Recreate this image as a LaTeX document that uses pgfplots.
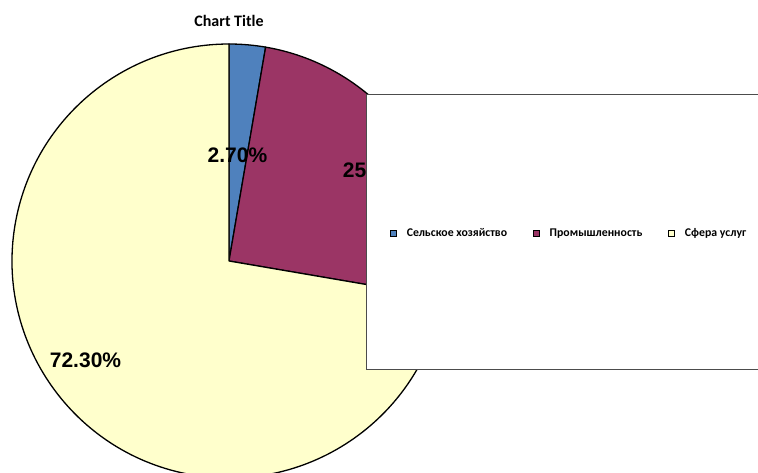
\documentclass[border=0pt]{standalone}
\usepackage{fontspec}
\setmainfont{Carlito}
\newfontfamily\labfont{Liberation Sans}
\usepackage{pgfplots}
\usepackage{pgfplotstable}
\pgfplotsset{compat=1.18}
\definecolor{cA}{HTML}{4F81BD}
\definecolor{cB}{HTML}{9B3565}
\definecolor{cC}{HTML}{FFFFCC}
\pgfplotstableread{
share
2.7
25.0
72.3
}\piedata
\begin{document}
\begin{tikzpicture}
\pgfplotstablegetelem{0}{share}\of\piedata \let\vA\pgfplotsretval
\pgfplotstablegetelem{1}{share}\of\piedata \let\vB\pgfplotsretval
\pgfplotstablegetelem{2}{share}\of\piedata \let\vC\pgfplotsretval
\pgfmathsetmacro\aA{90-3.6*\vA}
\pgfmathsetmacro\aB{\aA-3.6*\vB}
\pgfmathsetmacro\aC{\aB-3.6*\vC}
\begin{axis}[
  width=758pt,height=472pt,scale only axis,
  xmin=0,xmax=758,ymin=-472,ymax=0,
  hide axis, clip=true,
  legend columns=3,
  legend style={draw=none,fill=none,at={(axis cs:387,-233)},anchor=west,
    font=\bfseries\fontsize{11.8}{14}\selectfont,
    nodes={inner xsep=0pt,inner ysep=1pt},
    /tikz/every even column/.append style={column sep=26pt},
    /tikz/every odd column/.append style={column sep=10pt}},
  legend image code/.code={\draw[#1,draw=black,line width=0.6pt] (0pt,-3pt) rectangle (6pt,3pt);},
]
\begin{scope}
\clip (axis cs:0,-472) rectangle (axis cs:758,0);
\filldraw[fill=cA,draw=black,line width=1.3pt,line join=round] (axis cs:229,-261) -- ++(90:217pt) arc[start angle=90,end angle=\aA,radius=217pt] -- cycle;
\filldraw[fill=cB,draw=black,line width=1.3pt,line join=round] (axis cs:229,-261) -- ++(\aA:217pt) arc[start angle=\aA,end angle=\aB,radius=217pt] -- cycle;
\filldraw[fill=cC,draw=black,line width=1.3pt,line join=round] (axis cs:229,-261) -- ++(\aB:217pt) arc[start angle=\aB,end angle=\aC,radius=217pt] -- cycle;
\end{scope}
\node[font=\labfont\bfseries\fontsize{21}{25}\selectfont] at (axis cs:237.5,-155) {2.70\%};
\node[font=\labfont\bfseries\fontsize{21}{25}\selectfont] at (axis cs:378.5,-170) {25.00\%};
\node[font=\labfont\bfseries\fontsize{21}{25}\selectfont] at (axis cs:85.5,-360) {72.30\%};
\draw[fill=white,draw=gray!60!black,line width=1pt] (axis cs:366,-95) rectangle (axis cs:762,-369);
\node[font=\bfseries\fontsize{16}{19}\selectfont] at (axis cs:229,-21) {Chart Title};
\addlegendimage{fill=cA}
\addlegendentry{Сельское хозяйство}
\addlegendimage{fill=cB}
\addlegendentry{Промышленность}
\addlegendimage{fill=cC}
\addlegendentry{Сфера услуг}
\end{axis}
\pgfresetboundingbox
\useasboundingbox (current axis.south west) rectangle (current axis.north east);
\end{tikzpicture}
\end{document}
